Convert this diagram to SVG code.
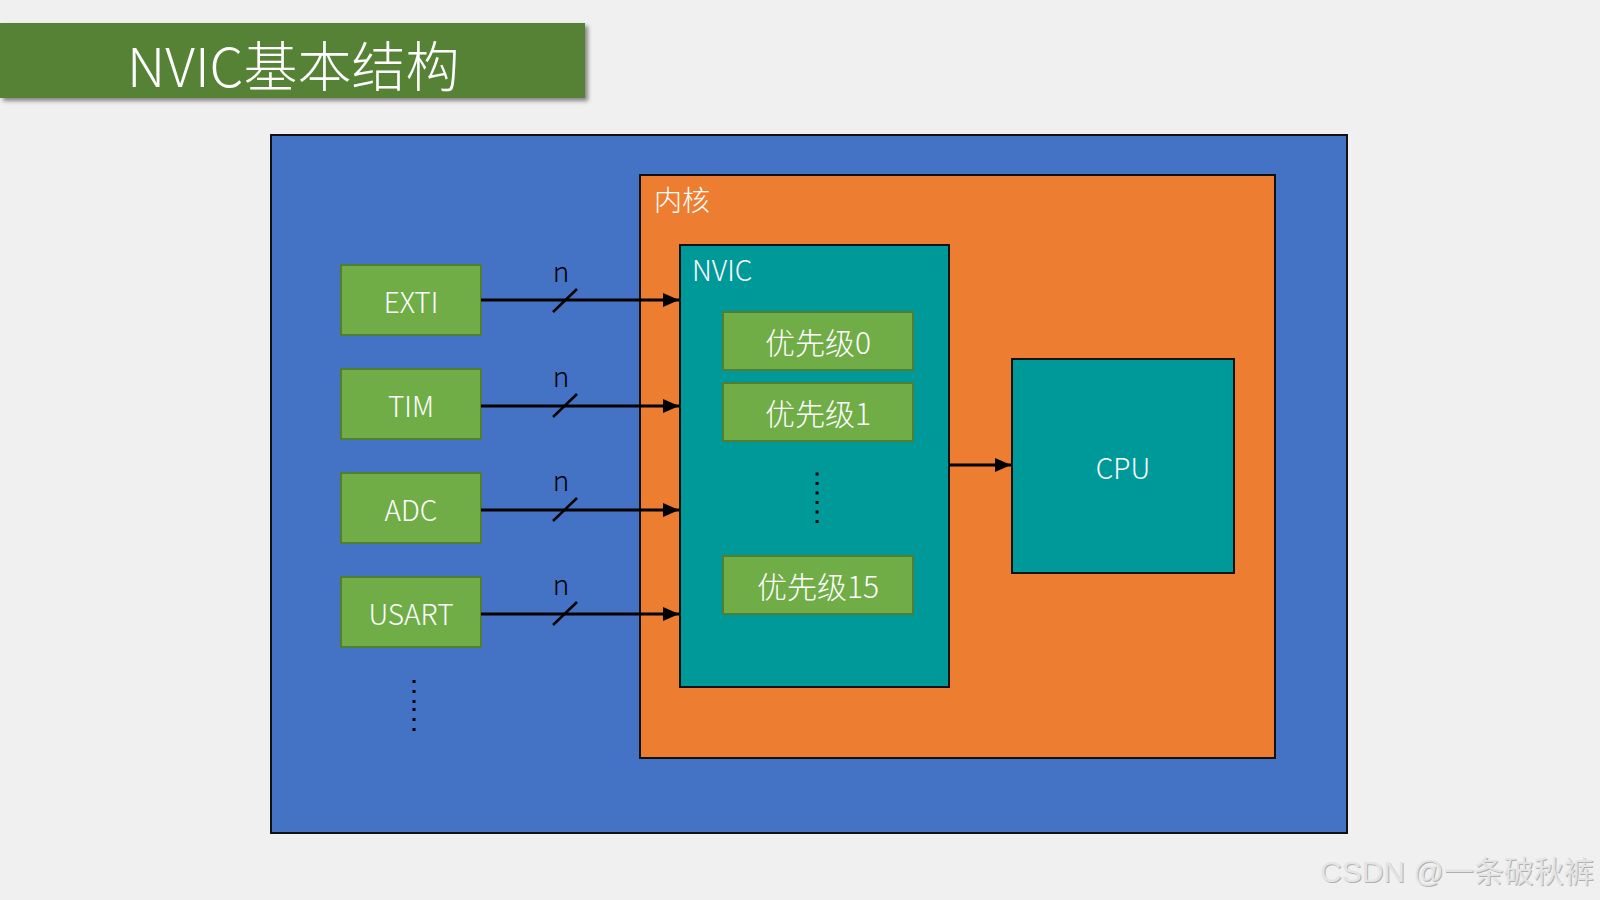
<svg xmlns="http://www.w3.org/2000/svg" width="1600" height="900" viewBox="0 0 1600 900">
<defs>
<style>
.t{font-family:"Noto Sans CJK SC","Noto Sans",sans-serif;fill:#ffffff;font-weight:300}
.c{text-anchor:middle}
.grn{fill:#70AD47;stroke:#507E32;stroke-width:2}
.teal{fill:#009999;stroke:#111;stroke-width:2}
.conn{stroke:#000;stroke-width:3;fill:none}
.sl{stroke:#000;stroke-width:2.5}
.n{font-family:"Noto Sans CJK SC","Noto Sans",sans-serif;fill:#000;font-size:28px;font-weight:300;text-anchor:middle}
.dot{fill:#000}
</style>
<marker id="ah" viewBox="0 0 16 14" refX="16" refY="7" markerWidth="16" markerHeight="14" markerUnits="userSpaceOnUse" orient="auto">
<path d="M0,0 L16,7 L0,14 Z" fill="#000"/>
</marker>
<filter id="sh" x="-5%" y="-20%" width="115%" height="150%">
<feGaussianBlur in="SourceAlpha" stdDeviation="2"/>
<feOffset dx="3" dy="3"/>
<feComponentTransfer><feFuncA type="linear" slope="0.45"/></feComponentTransfer>
<feMerge><feMergeNode/><feMergeNode in="SourceGraphic"/></feMerge>
</filter>
</defs>
<rect x="0" y="0" width="1600" height="900" fill="#f0f0f0"/>
<g id="title">
<rect x="0" y="23" width="585" height="75" fill="#548235" filter="url(#sh)"/>
<text class="t" x="127" y="87" font-size="54">NVIC基本结构</text>
</g>
<g id="chip">
<rect x="271" y="135" width="1076" height="698" fill="#4472C4" stroke="#111" stroke-width="2"/>
</g>
<g id="core">
<rect x="640" y="175" width="635" height="583" fill="#ED7D31" stroke="#111" stroke-width="2"/>
<text class="t" x="654" y="211" font-size="28">内核</text>
</g>
<g id="nvic">
<rect class="teal" x="680" y="245" width="269" height="442"/>
<text class="t" x="692" y="281" font-size="28">NVIC</text>
</g>
<g id="prio0">
<rect class="grn" x="723" y="312" width="190" height="58"/>
<text class="t c" x="818" y="354" font-size="30">优先级0</text>
</g>
<g id="prio1">
<rect class="grn" x="723" y="383" width="190" height="58"/>
<text class="t c" x="818" y="425" font-size="30">优先级1</text>
</g>
<g id="prio-dots">
<rect class="dot" x="815.5" y="472.5" width="3" height="3"/>
<rect class="dot" x="815.5" y="482" width="3" height="3"/>
<rect class="dot" x="815.5" y="491.5" width="3" height="3"/>
<rect class="dot" x="815.5" y="501" width="3" height="3"/>
<rect class="dot" x="815.5" y="510.5" width="3" height="3"/>
<rect class="dot" x="815.5" y="520" width="3" height="3"/>
</g>
<g id="prio15">
<rect class="grn" x="723" y="556" width="190" height="58"/>
<text class="t c" x="818" y="598" font-size="30">优先级15</text>
</g>
<g id="cpu">
<rect class="teal" x="1012" y="359" width="222" height="214"/>
<text class="t c" x="1123" y="479" font-size="28">CPU</text>
</g>
<g id="exti">
<rect class="grn" x="341" y="265" width="140" height="70"/>
<text class="t c" x="411" y="313" font-size="28">EXTI</text>
</g>
<g id="tim">
<rect class="grn" x="341" y="369" width="140" height="70"/>
<text class="t c" x="411" y="417" font-size="28">TIM</text>
</g>
<g id="adc">
<rect class="grn" x="341" y="473" width="140" height="70"/>
<text class="t c" x="411" y="521" font-size="28">ADC</text>
</g>
<g id="usart">
<rect class="grn" x="341" y="577" width="140" height="70"/>
<text class="t c" x="411" y="625" font-size="28">USART</text>
</g>
<g id="periph-dots">
<rect class="dot" x="412.5" y="680" width="3" height="3"/>
<rect class="dot" x="412.5" y="690" width="3" height="3"/>
<rect class="dot" x="412.5" y="700" width="3" height="3"/>
<rect class="dot" x="412.5" y="708" width="3" height="3"/>
<rect class="dot" x="412.5" y="718" width="3" height="3"/>
<rect class="dot" x="412.5" y="728" width="3" height="3"/>
</g>
<g id="connectors">
<line class="conn" x1="481" y1="300" x2="679" y2="300" marker-end="url(#ah)"/>
<line class="sl" x1="553" y1="312" x2="577" y2="289"/>
<text class="n" x="561" y="282">n</text>
<line class="conn" x1="481" y1="406" x2="679" y2="406" marker-end="url(#ah)"/>
<line class="sl" x1="553" y1="417" x2="577" y2="394"/>
<text class="n" x="561" y="387">n</text>
<line class="conn" x1="481" y1="510" x2="679" y2="510" marker-end="url(#ah)"/>
<line class="sl" x1="553" y1="521" x2="577" y2="498"/>
<text class="n" x="561" y="491">n</text>
<line class="conn" x1="481" y1="614" x2="679" y2="614" marker-end="url(#ah)"/>
<line class="sl" x1="553" y1="625" x2="577" y2="602"/>
<text class="n" x="561" y="595">n</text>
<line class="conn" x1="949" y1="465" x2="1011" y2="465" marker-end="url(#ah)"/>
</g>
<g id="watermark">
<text x="1321" y="883" font-family="Liberation Sans,'Noto Sans CJK SC',sans-serif" font-size="30" fill="#b0b0b0">CSDN @一条破秋裤</text>
<text x="1320" y="882" font-family="Liberation Sans,'Noto Sans CJK SC',sans-serif" font-size="30" fill="#e4e4e4">CSDN @一条破秋裤</text>
</g>
</svg>
